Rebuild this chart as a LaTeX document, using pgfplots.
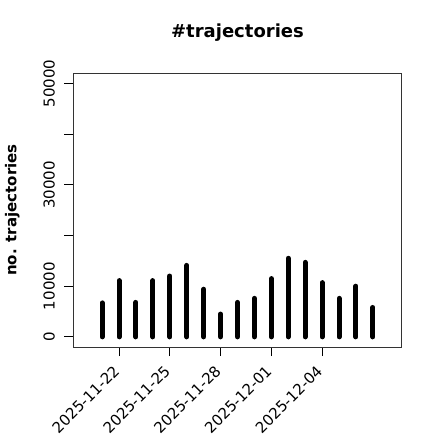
\documentclass[border=0pt]{standalone}
\usepackage{pgfplots}
\pgfplotsset{compat=1.18}
\usepackage{fontspec}
\setmainfont{DejaVu Sans}
\begin{document}
\begin{tikzpicture}[x=1pt,y=1pt]
\path[use as bounding box] (0,0) rectangle (440,440);
\begin{axis}[
  at={(73.3pt,93pt)}, anchor=south west,
  scale only axis, width=328.4pt, height=273.7pt,
  xmin=-1.7, xmax=17.7, ymin=-2000, ymax=52000,
  scaled y ticks=false,
  axis line style={black!80, line width=0.8pt},
  tick style={black, line width=0.8pt},
  tick align=outside, major tick length=9pt,
  xtick pos=lower, ytick pos=left,
  xtick={1,4,7,10,13},
  xticklabels={\mbox{2025-11-22},\mbox{2025-11-25},\mbox{2025-11-28},\mbox{2025-12-01},\mbox{2025-12-04}},
  ytick={0,10000,20000,30000,40000,50000},
  yticklabels={\mbox{0},\mbox{10000},,\mbox{30000},,\mbox{50000}},
  xticklabel style={rotate=45, anchor=east, font=\fontsize{15}{18}\selectfont},
  yticklabel style={rotate=90, anchor=south, font=\fontsize{15}{18}\selectfont},
  xticklabel shift=10pt,
  yticklabel shift=6pt,
  title={\#trajectories},
  title style={at={(0.5,1)}, anchor=base, yshift=30pt, font=\fontsize{18}{21}\selectfont\bfseries},
  ylabel={no. trajectories},
  every axis y label/.style={at={(axis description cs:-0.186,0.5)}, rotate=90, anchor=center, font=\fontsize{15}{18}\selectfont\bfseries},
]
\addplot[ycomb, black, line width=5pt, line cap=round, mark=none] coordinates {
(0,6700) (1,11100) (2,6800) (3,11100) (4,12000) (5,14100) (6,9400) (7,4500)
(8,6800) (9,7600) (10,11500) (11,15500) (12,14700) (13,10700) (14,7600) (15,10000) (16,5800)
};
\end{axis}
\end{tikzpicture}
\end{document}
